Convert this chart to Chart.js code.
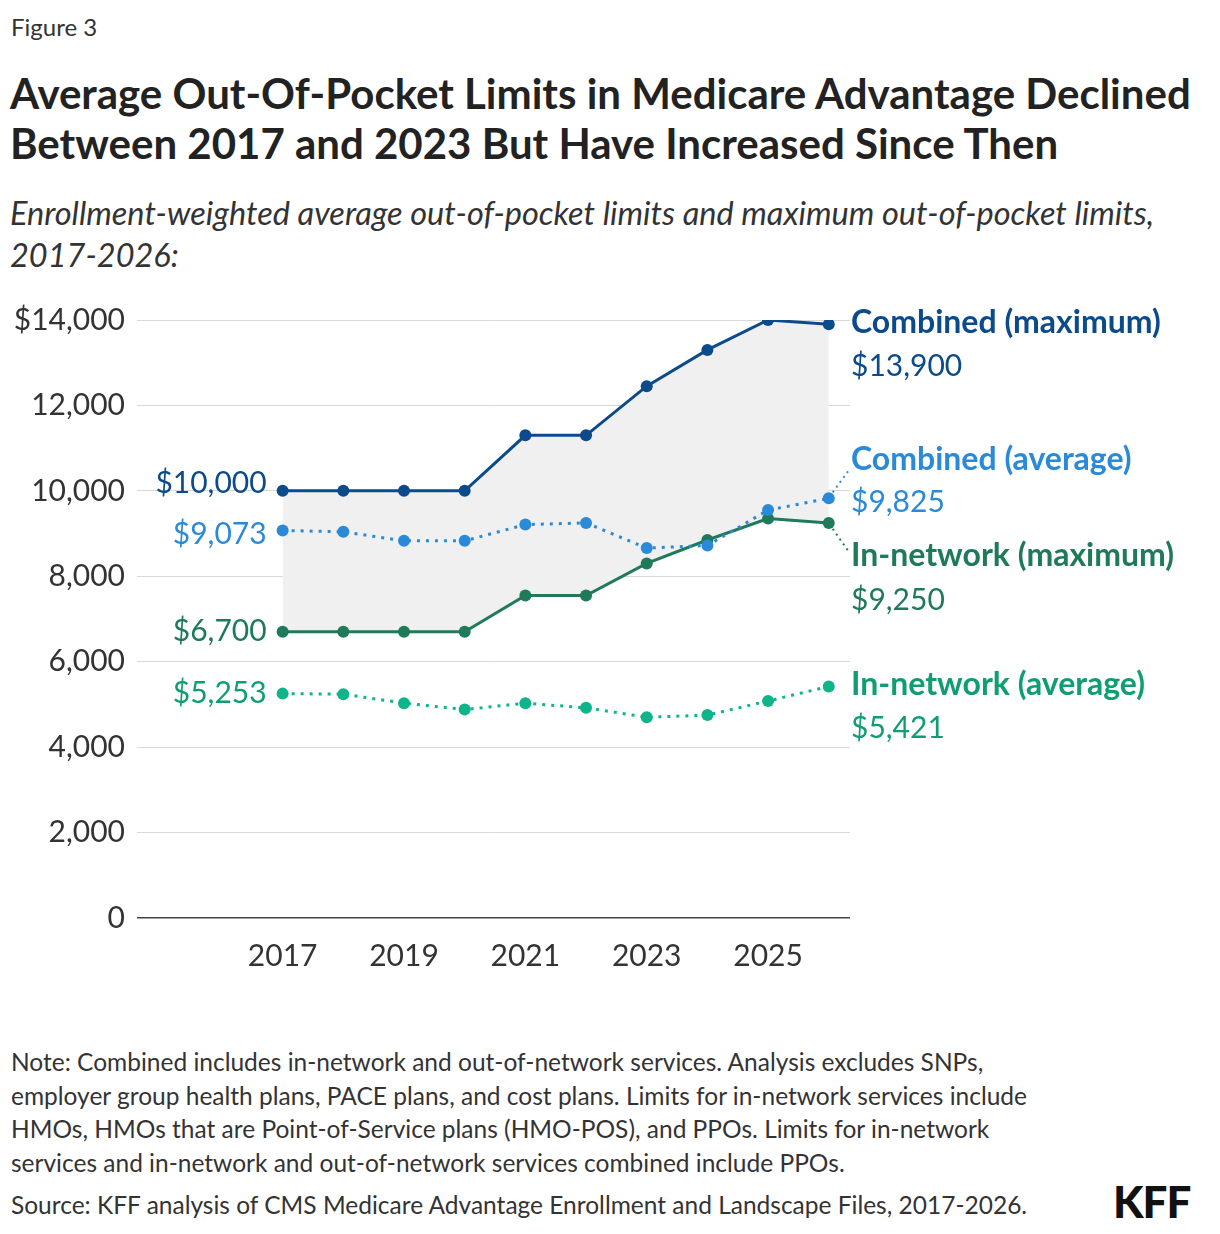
<!DOCTYPE html>
<html><head><meta charset="utf-8">
<script src="https://cdn.jsdelivr.net/npm/chart.js@4/dist/chart.umd.min.js"></script>
<style>
body{margin:0;background:#fff;font-family:Lato,"Noto Sans",sans-serif;color:#222;width:1220px;height:1234px;position:relative;overflow:hidden}
#fig{position:absolute;left:11px;top:12px;font-size:24px;color:#333}
#title{position:absolute;left:10px;top:68px;font-size:42px;font-weight:bold;line-height:50px;color:#222;width:1215px}
#sub{position:absolute;left:10px;top:192px;font-size:32.5px;font-style:italic;line-height:42px;color:#333;width:1165px}
#wrap{position:absolute;left:0;top:290px;width:1220px;height:720px}
#note{position:absolute;left:11px;top:1045px;font-size:24.5px;line-height:33.5px;color:#333;width:1060px}
#src{position:absolute;left:11px;top:1190px;font-size:24.5px;color:#333}
#kff{position:absolute;left:1113px;top:1175px;font-size:44px;font-weight:900;color:#111;letter-spacing:-1px}
</style></head><body>
<div id="fig">Figure 3</div>
<div id="title">Average Out-Of-Pocket Limits in Medicare Advantage Declined Between 2017 and 2023 But Have Increased Since Then</div>
<div id="sub">Enrollment-weighted average out-of-pocket limits and maximum out-of-pocket limits, 2017-2026:</div>
<div id="wrap"><canvas id="c" width="1220" height="720"></canvas></div>
<div id="note">Note: Combined includes in-network and out-of-network services. Analysis excludes SNPs, employer group health plans, PACE plans, and cost plans. Limits for in-network services include HMOs, HMOs that are Point-of-Service plans (HMO-POS), and PPOs. Limits for in-network services and in-network and out-of-network services combined include PPOs.</div>
<div id="src">Source: KFF analysis of CMS Medicare Advantage Enrollment and Landscape Files, 2017-2026.</div>
<div id="kff">KFF</div>
<script>
const years = [2017,2018,2019,2020,2021,2022,2023,2024,2025,2026];
const combinedMax = [10000,10000,10000,10000,11300,11300,12450,13300,14000,13900];
const combinedAvg = [9073,9040,8830,8830,9210,9250,8660,8720,9550,9825];
const innetMax = [6700,6700,6700,6700,7550,7550,8300,8850,9350,9250];
const innetAvg = [5253,5240,5030,4880,5030,4920,4700,4750,5080,5421];
const yTicks = [0,2000,4000,6000,8000,10000,12000,14000];

const C_NAVY='#0b4a8b', C_BLUE='#2a8ad8', C_DG='#1f7a5a', C_G='#10b48a', C_GT='#0f9e74';
const pts = a => a.map((v,i)=>({x:years[i],y:v}));
function ds(label,data,color,dash,fill){
  return {label,data:pts(data),borderColor:color,backgroundColor:color,pointBackgroundColor:color,
    pointRadius:6,pointBorderWidth:0,borderWidth:3,borderDash:dash,tension:0,fill:fill||false};
}
const labelPlugin={id:'lbl',afterDatasetsDraw(ch){
  const g=ch.ctx,x=ch.scales.x,y=ch.scales.y;
  g.save();g.textBaseline='middle';
  const F='30px Lato, "Noto Sans", sans-serif', FB='bold 32px Lato, "Noto Sans", sans-serif';
  function t(s,px,py,col,font,al){g.font=font;g.fillStyle=col;g.textAlign=al;g.fillText(s,px,py);}
  const lx=x.getPixelForValue(2017)-16;
  t('$10,000',lx,y.getPixelForValue(combinedMax[0])-8,C_NAVY,F,'right');
  t('$9,073',lx,y.getPixelForValue(combinedAvg[0])+4,C_BLUE,F,'right');
  t('$6,700',lx,y.getPixelForValue(innetMax[0]),C_DG,F,'right');
  t('$5,253',lx,y.getPixelForValue(innetAvg[0]),C_GT,F,'right');
  const rx=851;
  t('Combined (maximum)',rx,y.getPixelForValue(14000)+3,C_NAVY,FB,'left');
  t('$13,900',rx,y.getPixelForValue(14000)+46,C_NAVY,F,'left');
  t('Combined (average)',rx,170,C_BLUE,FB,'left');
  t('$9,825',rx,212,C_BLUE,F,'left');
  t('In-network (maximum)',rx,266,C_DG,FB,'left');
  t('$9,250',rx,310,C_DG,F,'left');
  t('In-network (average)',rx,395,C_GT,FB,'left');
  t('$5,421',rx,438,C_GT,F,'left');
  const ex=x.getPixelForValue(2026);
  g.setLineDash([2,4]);g.lineWidth=2;
  g.strokeStyle=C_BLUE;g.beginPath();g.moveTo(ex+4,y.getPixelForValue(9825)-6);g.lineTo(rx-2,180);g.stroke();
  g.strokeStyle=C_DG;g.beginPath();g.moveTo(ex+4,y.getPixelForValue(9250)+6);g.lineTo(rx-2,262);g.stroke();
  g.restore();
}};
new Chart(document.getElementById('c'),{
  type:'line',
  data:{datasets:[
    ds('Combined (maximum)',combinedMax,C_NAVY,[],{target:2,above:'#f0f0f0',below:'#f0f0f0'}),
    ds('Combined (average)',combinedAvg,C_BLUE,[3,6]),
    ds('In-network (maximum)',innetMax,C_DG,[]),
    ds('In-network (average)',innetAvg,C_G,[3,6])
  ]},
  options:{responsive:false,animation:false,
    layout:{padding:{left:0,right:370,top:28,bottom:0}},
    plugins:{legend:{display:false},tooltip:{enabled:false},filler:{drawTime:'beforeDatasetsDraw'}},
    scales:{
      x:{type:'linear',min:2014.6,max:2026.35,
        afterFit(a){a.height=92;},
        afterBuildTicks(a){a.ticks=[2017,2019,2021,2023,2025].map(v=>({value:v}));},
        grid:{display:false,drawTicks:false},border:{display:false},
        ticks:{padding:20,color:'#333',font:{size:30,family:'Lato, "Noto Sans", sans-serif'},callback:v=>String(v)}},
      y:{min:0,max:14000,
        afterFit(a){a.width=137;},
        afterBuildTicks(a){a.ticks=yTicks.map(v=>({value:v}));},
        grid:{drawTicks:false,color:c=>c.tick&&c.tick.value===0?'#444':'#d9d9d9',lineWidth:c=>c.tick&&c.tick.value===0?1.5:1},
        border:{display:false},
        ticks:{padding:12,color:'#333',font:{size:30,family:'Lato, "Noto Sans", sans-serif'},
          callback:v=>v===14000?'$14,000':v.toLocaleString('en-US')}}
    }},
  plugins:[labelPlugin]
});
</script>
</body></html>
